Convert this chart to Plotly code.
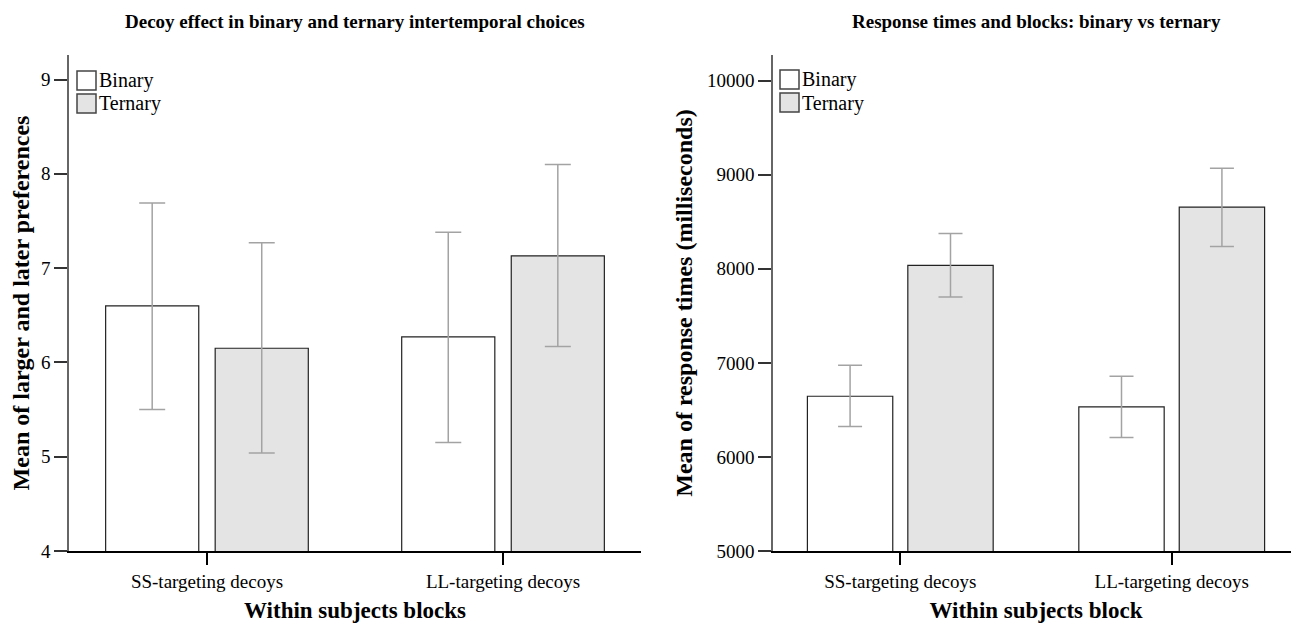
import plotly.graph_objects as go

categories = ["SS-targeting decoys", "LL-targeting decoys"]
series_names = ["Binary", "Ternary"]

# Left chart: mean of larger-later preferences with CI bounds
pref_binary = [6.60, 6.27]
pref_binary_hi = [7.69, 7.38]
pref_binary_lo = [5.50, 5.15]
pref_ternary = [6.15, 7.13]
pref_ternary_hi = [7.27, 8.10]
pref_ternary_lo = [5.04, 6.17]

# Right chart: mean response times (ms) with CI bounds
rt_binary = [6645, 6533]
rt_binary_hi = [6975, 6858]
rt_binary_lo = [6324, 6207]
rt_ternary = [8036, 8656]
rt_ternary_hi = [8376, 9070]
rt_ternary_lo = [7700, 8238]

left_yticks = [4, 5, 6, 7, 8, 9]
right_yticks = [5000, 6000, 7000, 8000, 9000, 10000]

FONT = "Liberation Serif"
PAGE_OFF = 8                      # default page body margin
W, H = 1299 - PAGE_OFF, 626 - PAGE_OFF
ERR_COLOR = "#a3a3a3"
FILLS = ["white", "#e4e4e4"]
EDGE = "#222222"


def fx(px):
    return (px - PAGE_OFF) / W


def fy(py):
    return 1 - (py - PAGE_OFF) / H


def err(vals, hi, lo, w):
    return dict(type="data", symmetric=False,
                array=[h - v for h, v in zip(hi, vals)],
                arrayminus=[v - l for l, v in zip(lo, vals)],
                color=ERR_COLOR, thickness=1.5, width=w)


fig = go.Figure()
left_data = [(pref_binary, pref_binary_hi, pref_binary_lo),
             (pref_ternary, pref_ternary_hi, pref_ternary_lo)]
right_data = [(rt_binary, rt_binary_hi, rt_binary_lo),
              (rt_ternary, rt_ternary_hi, rt_ternary_lo)]
for i, (v, hi, lo) in enumerate(left_data):
    fig.add_trace(go.Bar(name=series_names[i], x=categories, y=v,
                         marker=dict(color=FILLS[i], line=dict(color=EDGE, width=1.2)),
                         error_y=err(v, hi, lo, 13), showlegend=False,
                         xaxis="x", yaxis="y"))
for i, (v, hi, lo) in enumerate(right_data):
    fig.add_trace(go.Bar(name=series_names[i], x=categories, y=v,
                         marker=dict(color=FILLS[i], line=dict(color=EDGE, width=1.2)),
                         error_y=err(v, hi, lo, 12), showlegend=False,
                         xaxis="x2", yaxis="y2"))

ydom = [fy(551), fy(55)]
xaxis_common = dict(showline=True, linecolor="black", linewidth=1.5,
                    ticks="outside", ticklen=12, tickwidth=1.5, tickcolor="black",
                    tickfont=dict(family=FONT, size=19, color="black"),
                    showgrid=False, zeroline=False, automargin=False)
yaxis_common = dict(showline=True, linecolor="#666666", linewidth=1.5,
                    ticks="outside", ticklen=13, tickwidth=1.5, tickcolor="#333333",
                    tickfont=dict(family=FONT, size=19, color="black"),
                    showgrid=False, zeroline=False, domain=ydom,
                    tickformat="d", automargin=False)

# Custom legends (box + label) for each panel
shapes = []
annotations = []
legend_left_px = [(77, 71), (77, 94)]
legend_right_px = [(780, 70), (780, 93)]
for pos in (legend_left_px, legend_right_px):
    for i, (px, py) in enumerate(pos):
        shapes.append(dict(type="rect", xref="paper", yref="paper",
                           x0=fx(px), x1=fx(px + 19),
                           y0=fy(py), y1=fy(py + 19),
                           fillcolor=FILLS[i], line=dict(color="#444444", width=1.5)))
        annotations.append(dict(text=series_names[i], x=fx(px + 20),
                                y=fy(py + 10), xref="paper", yref="paper",
                                xanchor="left", yanchor="middle", showarrow=False,
                                font=dict(family=FONT, size=20, color="black")))

annotations += [
    dict(text="<b>Decoy effect in binary and ternary intertemporal choices</b>",
         x=fx(355), y=fy(21), xref="paper", yref="paper",
         xanchor="center", yanchor="middle", showarrow=False,
         font=dict(family=FONT, size=19)),
    dict(text="<b>Response times and blocks: binary vs ternary</b>",
         x=fx(1036), y=fy(21), xref="paper", yref="paper",
         xanchor="center", yanchor="middle", showarrow=False,
         font=dict(family=FONT, size=19)),
]

fig.update_layout(
    width=W, height=H,
    margin=dict(l=0, r=0, t=0, b=0),
    paper_bgcolor="white", plot_bgcolor="white",
    barmode="group", bargap=0.26, bargroupgap=0.15,
    font=dict(family=FONT, color="black"),
    showlegend=False,
    xaxis=dict(xaxis_common, domain=[fx(69), fx(641)], range=[-0.466, 1.466],
               anchor="y",
               title=dict(text="<b>Within subjects blocks</b>",
                          font=dict(family=FONT, size=23), standoff=11)),
    yaxis=dict(yaxis_common, range=[4, 9.26], tickvals=left_yticks, anchor="x",
               title=dict(text="<b>Mean of larger and later preferences</b>",
                          font=dict(family=FONT, size=24), standoff=11)),
    xaxis2=dict(xaxis_common, domain=[fx(773), 1.0], range=[-0.469, 1.469],
                anchor="y2",
                title=dict(text="<b>Within subjects block</b>",
                           font=dict(family=FONT, size=23), standoff=11)),
    yaxis2=dict(yaxis_common, range=[5000, 10273], tickvals=right_yticks, anchor="x2",
                title=dict(text="<b>Mean of response times (milliseconds)</b>",
                           font=dict(family=FONT, size=24), standoff=8)),
    shapes=shapes,
    annotations=annotations,
)

fig.write_html("out.html")
